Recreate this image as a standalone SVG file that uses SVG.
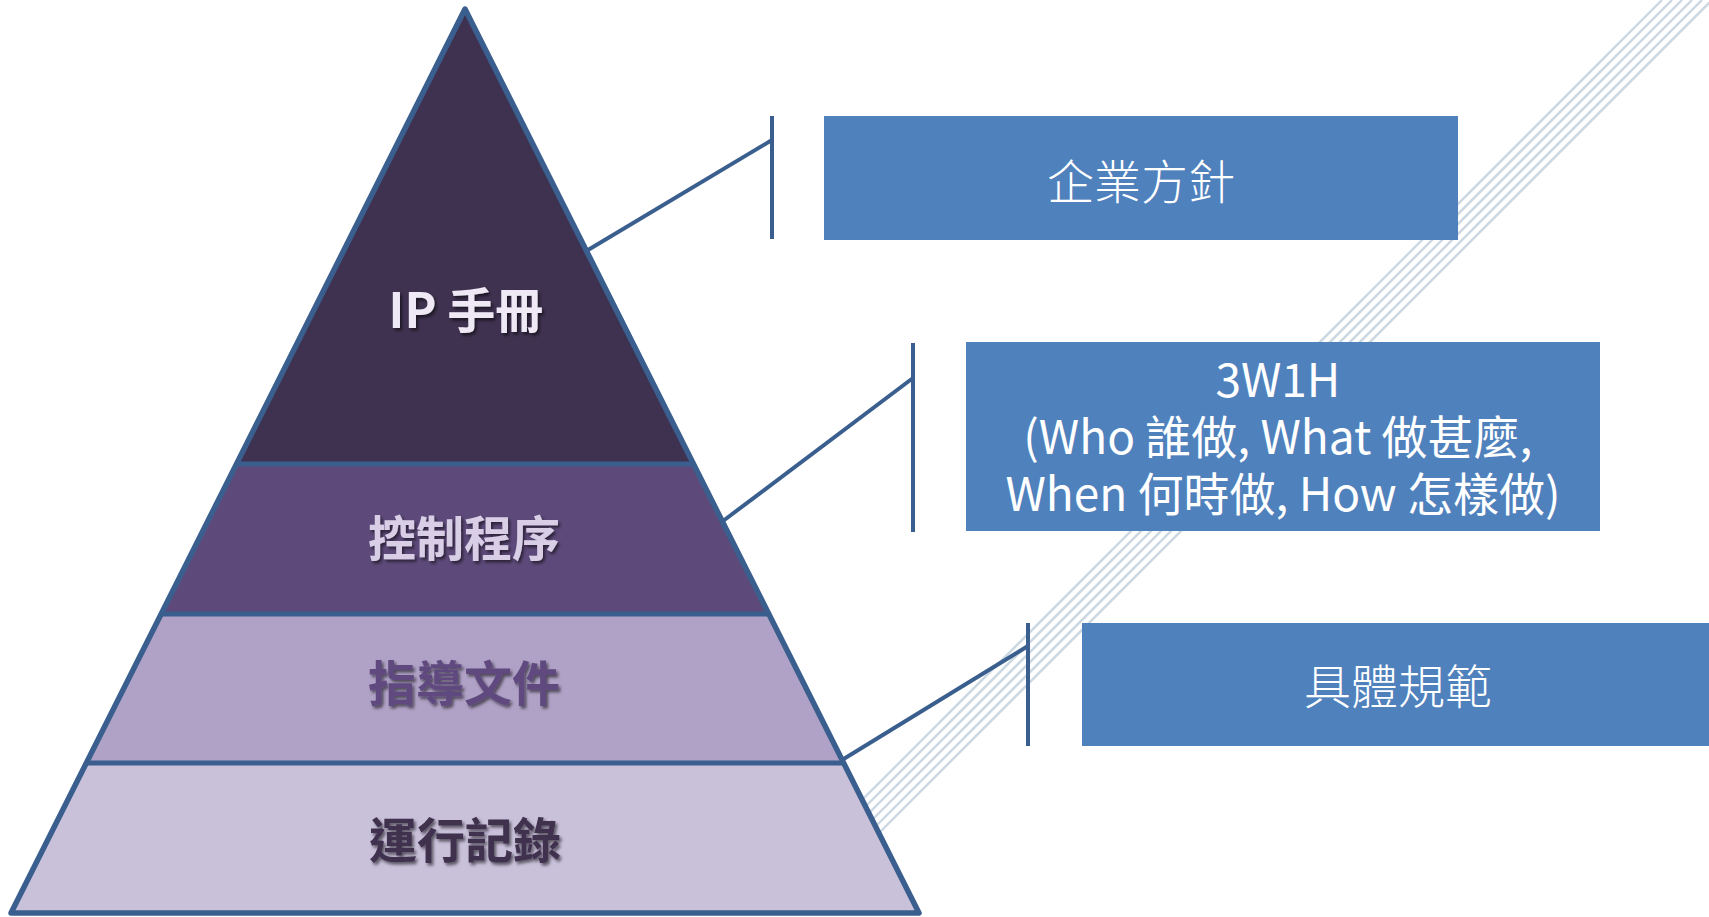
<svg xmlns="http://www.w3.org/2000/svg" width="1709" height="917" viewBox="0 0 1709 917">
<defs>
<style>
.edge{stroke:#3A5F8E;stroke-width:4;fill:none;stroke-linecap:butt}
.box{fill:#4F81BD}
.btxt{fill:#FFFFFF;font-family:"Noto Sans CJK TC","Liberation Sans",sans-serif;text-anchor:middle}
.ptxt{font-family:"Noto Sans CJK TC","Liberation Sans",sans-serif;font-size:48px;font-weight:bold;text-anchor:middle}
.stripe{stroke:#CBD7E1;stroke-width:2.4;fill:none}
</style>
<filter id="sh" x="-10%" y="-20%" width="130%" height="160%">
<feDropShadow dx="2" dy="2.5" stdDeviation="1.5" flood-color="#000000" flood-opacity="0.55"/>
</filter>
</defs>
<rect width="1709" height="917" fill="#FFFFFF"/>
<g id="stripes">
<line class="stripe" x1="1662" y1="0" x2="827" y2="835"/>
<line class="stripe" x1="1672" y1="0" x2="837" y2="835"/>
<line class="stripe" x1="1682" y1="0" x2="847" y2="835"/>
<line class="stripe" x1="1692" y1="0" x2="857" y2="835"/>
<line class="stripe" x1="1702" y1="0" x2="867" y2="835"/>
<line class="stripe" x1="1712" y1="0" x2="877" y2="835"/>
</g>
<g id="connectors">
<line class="edge" x1="588" y1="250" x2="772" y2="140"/>
<line class="edge" x1="772" y1="116" x2="772" y2="239"/>
<line class="edge" x1="723" y1="521" x2="913" y2="378"/>
<line class="edge" x1="913" y1="343" x2="913" y2="532"/>
<line class="edge" x1="842" y1="760" x2="1028" y2="646"/>
<line class="edge" x1="1028" y1="623" x2="1028" y2="746"/>
</g>
<g id="pyramid">
<g id="level-ip">
<polygon points="465,9 693.5,464 236.5,464" fill="#3F3250"/>
<text class="ptxt" x="466" y="328" fill="#EEE9F4" filter="url(#sh)">IP 手冊</text>
</g>
<g id="level-control">
<polygon points="236.5,464 693.5,464 769,614 161,614" fill="#5E4A7A"/>
<text class="ptxt" x="464" y="556" fill="#D8CFE6" filter="url(#sh)">控制程序</text>
</g>
<g id="level-guide">
<polygon points="161,614 769,614 844,763 86,763" fill="#B0A2C6"/>
<text class="ptxt" x="464" y="701" fill="#5E4A7F" filter="url(#sh)">指導文件</text>
</g>
<g id="level-record">
<polygon points="86,763 844,763 919,913 11,913" fill="#C9C0DA"/>
<text class="ptxt" x="465" y="858" fill="#3F3250" filter="url(#sh)">運行記錄</text>
</g>
<polygon points="465,9 919,913 11,913" fill="none" stroke="#3A5F8E" stroke-width="5.5" stroke-linejoin="round"/>
<line x1="236.5" y1="464" x2="693.5" y2="464" stroke="#3A5F8E" stroke-width="5"/>
<line x1="161" y1="614" x2="769" y2="614" stroke="#3A5F8E" stroke-width="5"/>
<line x1="86" y1="763" x2="844" y2="763" stroke="#3A5F8E" stroke-width="5"/>
</g>
<g id="box-policy">
<rect class="box" x="824" y="116" width="634" height="124"/>
<text class="btxt" x="1141" y="199" font-size="47" font-weight="300">企業方針</text>
</g>
<g id="box-3w1h">
<rect class="box" x="966" y="342" width="634" height="189"/>
<text class="btxt" font-size="46">
<tspan x="1283" y="397">3W1H</tspan>
<tspan x="1283" y="454">(Who 誰做, What 做甚麼,</tspan>
<tspan x="1283" y="511">When 何時做, How 怎樣做)</tspan>
</text>
</g>
<g id="box-spec">
<rect class="box" x="1082" y="623" width="627" height="123"/>
<text class="btxt" x="1398" y="704" font-size="47" font-weight="300">具體規範</text>
</g>
</svg>
